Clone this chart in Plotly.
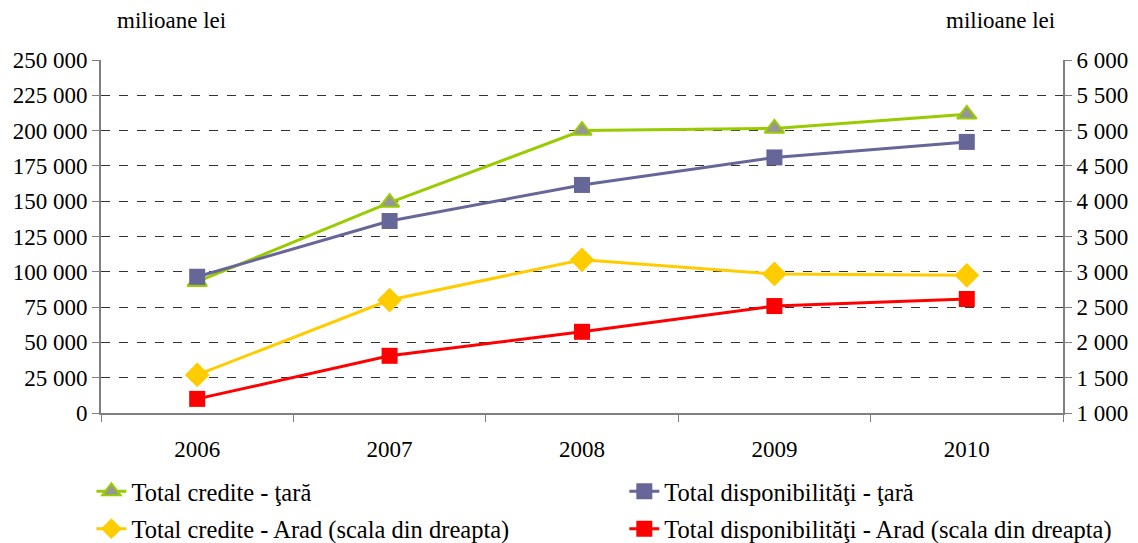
import plotly.graph_objects as go

years = ["2006", "2007", "2008", "2009", "2010"]

credite_tara = [93000, 149000, 200000, 201500, 211500]
disponibilitati_tara = [96500, 136000, 161500, 181000, 192000]
credite_arad = [1540, 2600, 3170, 2970, 2950]
disponibilitati_arad = [1200, 1810, 2150, 2515, 2615]

font_family = "Liberation Serif"

fig = go.Figure()

fig.add_trace(go.Scatter(
    x=years, y=credite_tara, name="Total credite - ţară",
    mode="lines+markers", legend="legend",
    line=dict(color="#99CC00", width=3),
    marker=dict(symbol="triangle-up", size=17, color="#969696",
                line=dict(color="#99CC00", width=2)),
))
fig.add_trace(go.Scatter(
    x=years, y=disponibilitati_tara, name="Total disponibilităţi - ţară",
    mode="lines+markers", legend="legend2",
    line=dict(color="#666699", width=3),
    marker=dict(symbol="square", size=16, color="#666699"),
))
fig.add_trace(go.Scatter(
    x=years, y=credite_arad, name="Total credite - Arad (scala din dreapta)",
    mode="lines+markers", yaxis="y2", legend="legend3",
    line=dict(color="#FFCC00", width=3),
    marker=dict(symbol="diamond", size=19, color="#FFCC00"),
))
fig.add_trace(go.Scatter(
    x=years, y=disponibilitati_arad, name="Total disponibilităţi - Arad (scala din dreapta)",
    mode="lines+markers", yaxis="y2", legend="legend4",
    line=dict(color="#FF0000", width=3),
    marker=dict(symbol="square", size=16, color="#FF0000"),
))

def leg(x, y):
    return dict(
        orientation="h", xanchor="left", yanchor="middle", x=x, y=y,
        font=dict(family=font_family, size=24.5, color="#000"),
        bgcolor="rgba(0,0,0,0)",
    )

col1, col2 = -0.01, 0.544
row1, row2 = -0.222, -0.328
tick_font = dict(family=font_family, size=23, color="#000")

fig.update_layout(
    width=1138, height=543,
    margin=dict(l=101, r=75, t=60, b=130, autoexpand=False),
    paper_bgcolor="white", plot_bgcolor="white",
    separators=", ",
    font=dict(family=font_family, size=23, color="#000"),
    xaxis=dict(
        type="category", range=[-0.5, 4.5], tickson="boundaries",
        ticks="outside", ticklen=7, tickcolor="#808080",
        showline=True, linecolor="#808080", linewidth=2,
        showgrid=False, tickfont=tick_font, ticklabelstandoff=14,
    ),
    yaxis=dict(
        range=[0, 250000], dtick=25000, tickformat=",d",
        ticks="outside", ticklen=7, tickcolor="#808080",
        showline=True, linecolor="#808080", linewidth=2,
        showgrid=True, gridcolor="#333333", gridwidth=1, griddash="dash",
        zeroline=False, tickfont=tick_font,
    ),
    yaxis2=dict(
        range=[1000, 6000], dtick=500, tickformat=",d",
        overlaying="y", side="right",
        ticks="outside", ticklen=7, tickcolor="#808080",
        showline=True, linecolor="#808080", linewidth=2,
        showgrid=False, zeroline=False, tickfont=tick_font,
    ),
    legend=leg(col1, row1),
    legend2=leg(col2, row1),
    legend3=leg(col1, row2),
    legend4=leg(col2, row2),
    showlegend=True,
    annotations=[
        dict(text="milioane lei", xref="paper", yref="paper", x=0.015, y=1.07,
             xanchor="left", yanchor="bottom", showarrow=False,
             font=dict(family=font_family, size=23)),
        dict(text="milioane lei", xref="paper", yref="paper", x=0.994, y=1.07,
             xanchor="right", yanchor="bottom", showarrow=False,
             font=dict(family=font_family, size=23)),
    ],
)

fig.write_html("out.html", config={"displayModeBar": False},
               post_script="document.body.style.margin='0';")
